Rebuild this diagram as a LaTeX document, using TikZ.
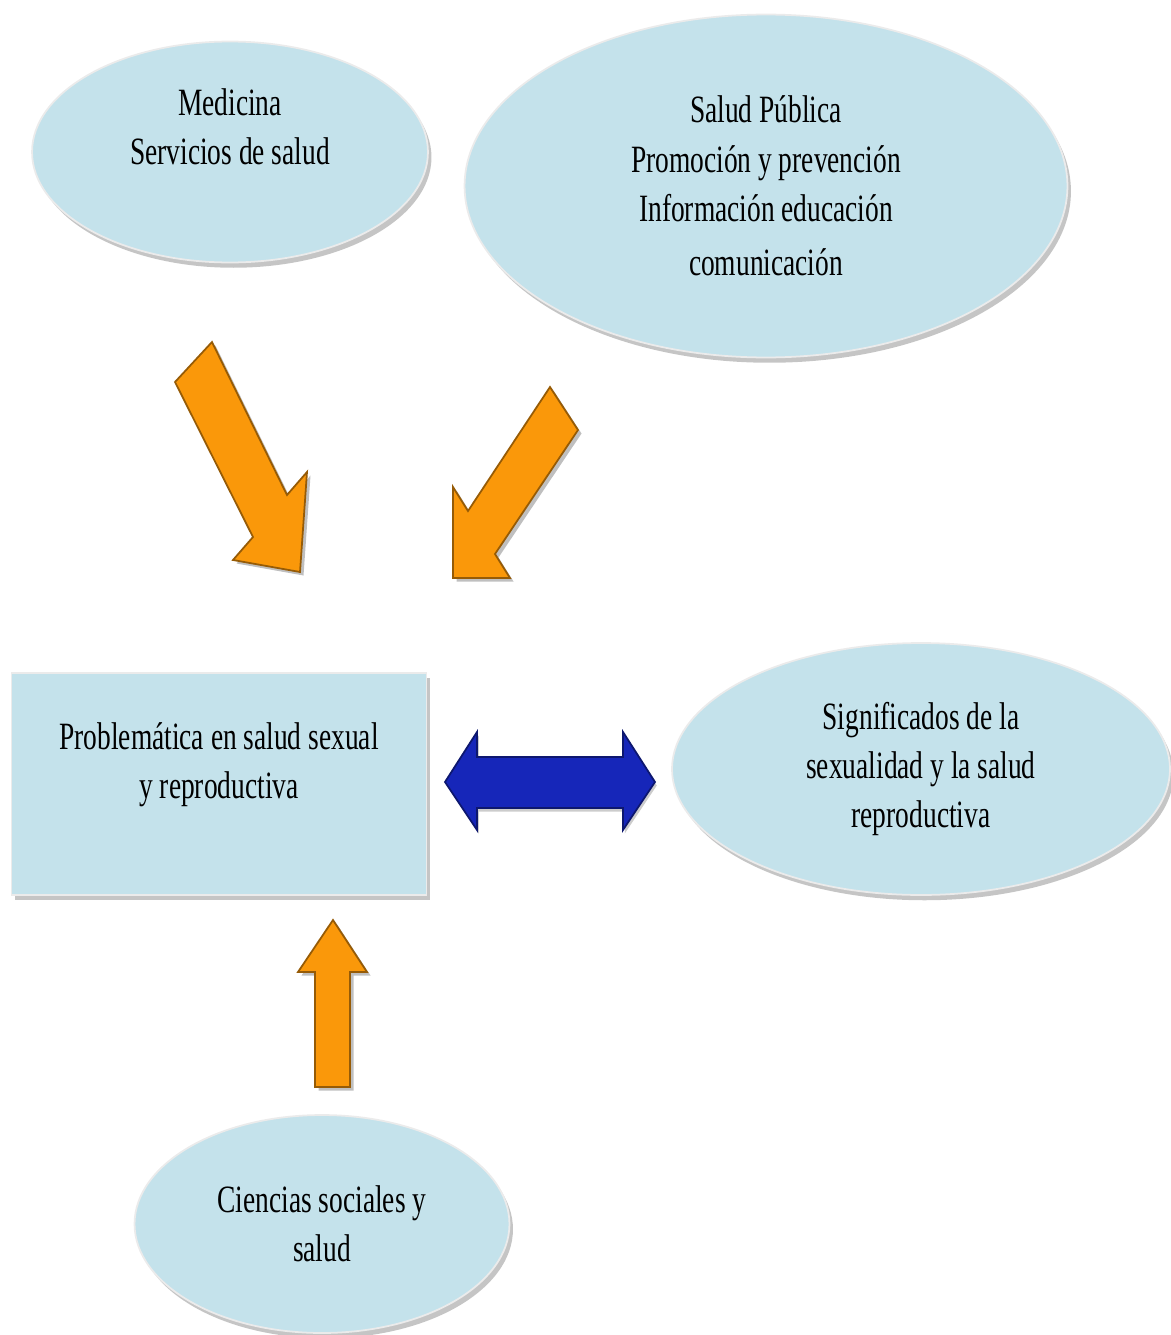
\documentclass[tikz,border=0pt]{standalone}
\usepackage{fontspec}
\setmainfont{Liberation Serif}[FakeStretch=0.71]
\usetikzlibrary{shapes.geometric,shadows}

\definecolor{boxblue}{RGB}{196,226,235}
\definecolor{arroworange}{RGB}{250,152,10}
\definecolor{arrowblue}{RGB}{22,38,185}

\tikzset{
  fieldbox/.style={fill=boxblue,draw=black!8,line width=1pt,align=center,
    font=\fontsize{22}{28}\selectfont,
    drop shadow={shadow xshift=2pt,shadow yshift=-3pt,fill=black!45,opacity=0.5}},
  fieldellipse/.style={fieldbox,ellipse,inner sep=0pt},
  orangearrow/.style={fill=arroworange,draw=arroworange!60!black,line width=1pt,
    drop shadow={shadow xshift=2pt,shadow yshift=-2pt,fill=black!50,opacity=0.5}},
  bluearrow/.style={fill=arrowblue,draw=arrowblue!60!black,line width=1pt,
    drop shadow={shadow xshift=1pt,shadow yshift=-2pt,fill=black!50,opacity=0.4}}
}

\begin{document}
\begin{tikzpicture}[x=0.02cm,y=-0.02cm]
    \useasboundingbox (0,0) rectangle (1170,1335);

    % fields
    \node[fieldellipse,minimum width=7.92cm,minimum height=4.42cm,text depth=29pt] (medicina) at (230,152)
      {Medicina\\Servicios de salud};
    \node[fieldellipse,minimum width=12.06cm,minimum height=6.86cm] (saludpublica) at (766,186)
      {Salud Pública\\Promoción y prevención\\Información educación\\[3pt]comunicación};
    \node[fieldbox,rectangle,minimum width=8.3cm,minimum height=4.44cm,text depth=27pt] (problematica) at (219,784)
      {Problemática en salud sexual\\y reproductiva};
    \node[fieldellipse,minimum width=9.96cm,minimum height=5.04cm] (significados) at (921,769)
      {Significados de la\\sexualidad y la salud\\reproductiva};
    \node[fieldellipse,minimum width=7.5cm,minimum height=4.36cm] (ciencias) at (322,1224)
      {Ciencias sociales y\\salud};

    % block arrows
    \filldraw[orangearrow] (175,382) -- (212,342) -- (287,495) -- (307,472) -- (300,572)
      -- (233,560) -- (253,537) -- cycle;
    \filldraw[orangearrow] (550,387) -- (578,430) -- (495,554) -- (510,578) -- (453,578)
      -- (453,487) -- (468,511) -- cycle;
    \filldraw[orangearrow] (315,1087) -- (315,972) -- (298,972) -- (333,920) -- (367,972)
      -- (350,972) -- (350,1087) -- cycle;
    \filldraw[bluearrow] (445,782) -- (477,732) -- (477,757) -- (623,757) -- (623,732)
      -- (655,782) -- (623,830) -- (623,808) -- (477,808) -- (477,830) -- cycle;

\end{tikzpicture}
\end{document}
